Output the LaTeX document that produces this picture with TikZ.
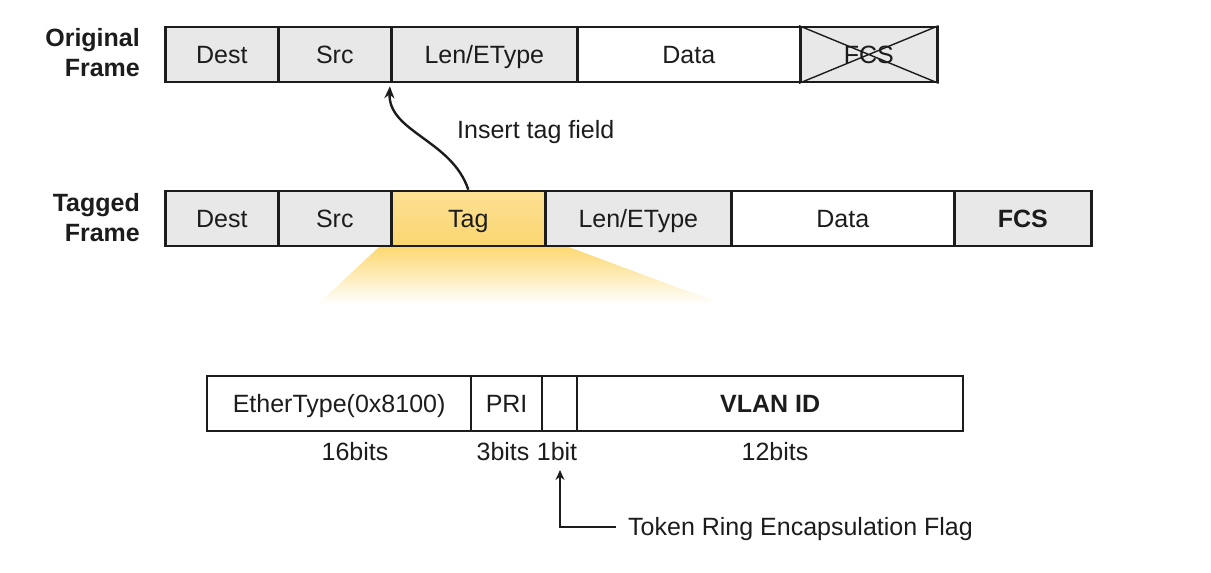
\documentclass[tikz,border=0pt]{standalone}
\usepackage{fontspec}
\setmainfont{Liberation Sans}
\usetikzlibrary{arrows.meta}
\definecolor{ink}{RGB}{28,28,28}
\definecolor{cellgray}{RGB}{232,232,232}
\definecolor{tagyellow}{RGB}{251,214,112}
\definecolor{fanyellow}{RGB}{252,216,110}
\tikzset{
  every node/.style={text=ink, font=\fontsize{25}{30}\selectfont,
    text height=20pt, text depth=2.1pt},
  field/.style={draw=ink, line width=2.6pt, minimum height=55pt, inner sep=0pt, anchor=west},
  gray/.style={fill=cellgray},
  white/.style={fill=white},
  subfield/.style={draw=ink, line width=2.2pt, minimum height=55pt, inner sep=0pt, anchor=west, fill=white},
  rowlabel/.style={align=right, anchor=east, inner sep=0pt, font=\fontsize{25}{30}\selectfont\bfseries},
  bitlabel/.style={anchor=center},
}
\begin{document}
\begin{tikzpicture}[x=1pt, y=-1pt]
\useasboundingbox (0,0) rectangle (1211,573);

% tag expansion glow below the tagged frame
\shade[top color=fanyellow, middle color=fanyellow!40, bottom color=white]
  (380,246) -- (566,246) -- (722,304) -- (318,304) -- cycle;

% original frame
\node[rowlabel] (olab) at (140,68) {Original\\Frame};
\node[field, gray,  minimum width=113] (o1) at (164,54.5) {Dest};
\node[field, gray,  minimum width=113] (o2) at (277,54.5) {Src};
\node[field, gray,  minimum width=186] (o3) at (390,54.5) {Len/EType};
\node[field, white, minimum width=223] (o4) at (576,54.5) {Data};
\node[field, gray,  minimum width=137] (o5) at (799,54.5) {FCS};
\draw[ink, line width=1.4pt] (o5.north west) -- (o5.south east)
                             (o5.south west) -- (o5.north east);

% tagged frame
\node[rowlabel] (tlab) at (140,233) {Tagged\\Frame};
\node[field, gray,  minimum width=113] (t1) at (164,218.5) {Dest};
\node[field, gray,  minimum width=113] (t2) at (277,218.5) {Src};
\node[field, minimum width=154, top color=tagyellow!75, bottom color=tagyellow] (t3) at (390,218.5) {Tag};
\node[field, gray,  minimum width=186] (t4) at (544,218.5) {Len/EType};
\node[field, white, minimum width=223] (t5) at (730,218.5) {Data};
\node[field, gray,  minimum width=137] (t6) at (953,218.5) {\bfseries FCS};

% insertion arrow
\node[anchor=west, inner sep=0pt] (ins) at (457,130) {Insert tag field};
\draw[ink, line width=2.4pt, -{Stealth[length=12pt,width=10pt]}, shorten >=3pt]
  (t3.north) .. controls (452,140) and (388,132) .. (o3.south west);

% 802.1Q tag layout
\node[subfield, minimum width=264] (q1) at (206,403.5) {EtherType(0x8100)};
\node[subfield, minimum width=71]  (q2) at (470,403.5) {PRI};
\node[subfield, minimum width=35]  (q3) at (541,403.5) {};
\node[subfield, minimum width=386] (q4) at (576,403.5) {\bfseries VLAN ID};

\node[bitlabel] (b1) at (355,452) {16bits};
\node[bitlabel] (b2) at (503,452) {3bits};
\node[bitlabel] (b3) at (557,452) {1bit};
\node[bitlabel] (b4) at (775,452) {12bits};

% token ring encapsulation flag callout
\node[anchor=west, inner sep=0pt] (tok) at (628,527) {Token Ring Encapsulation Flag};
\coordinate (flagtip) at (560,470);
\draw[ink, line width=1.3pt, -{Stealth[length=10pt,width=9pt]}, shorten <=12pt]
  (tok.west) -| (flagtip);
\end{tikzpicture}
\end{document}
